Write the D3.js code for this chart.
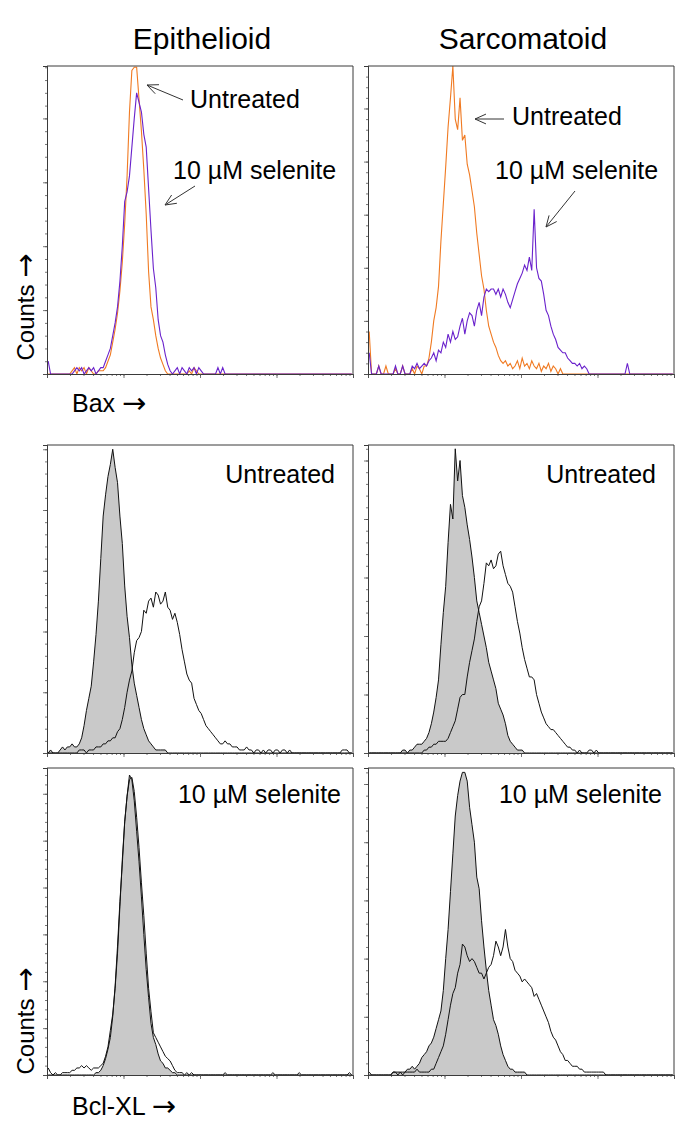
<!DOCTYPE html>
<html><head><meta charset="utf-8">
<script src="https://cdn.jsdelivr.net/npm/d3@7"></script>
<style>
body{margin:0;background:#fff}
svg{display:block}
text{font-family:"Liberation Sans", Arial, Helvetica, sans-serif; fill:#000}
</style>
</head><body>
<svg id="chart" width="685" height="1136"></svg>
<script>
// ---------------- data ----------------
const columnTitles = ["Epithelioid", "Sarcomatoid"];
const markerLabels = ["Bax", "Bcl-XL"];
const countsLabel = "Counts";
const arrowGlyph = "→";
const conditionLabels = ["Untreated", "10 µM selenite"];
const channelsPerDecade = 32;          // 128 channels over 4 decades
const totalChannels = 128;
const decadeTicks = [1, 10, 100, 1000, 10000];
const yMaxByPanel = [96.4, 116, 101.4, 105.3, 131, 105.5];

// Bax, Epithelioid
const epiBaxUntreatedStart = 10;
const epiBaxUntreated = [1,2,0,2,1,2,0,2,1,0,0,1,1,
  1,2,4,6,10,14,19,26,35,47,62,82,95,96,96,86,76,64,50,32,21,17,12,8,5,3,1,
  0,0,0,0,0,0,0,0,0,1,0,2,1,0];
const epiBaxSeleniteStart = 0;
const epiBaxSelenite = [4,0,0,0,0,0,0,0,0,0,
  0,1,2,1,2,0,1,2,1,2,0,1,2,
  2,4,6,8,12,16,21,29,40,54,57,62,71,80,88,85,82,75,71,58,45,33,27,17,12,10,6,3,1,0,
  1,2,0,2,1,0,2,1,2,0,2,1,
  0,0,0,0,0,0,2,0,2,0];

// Bax, Sarcomatoid
const sarBaxUntreatedStart = 0;
const sarBaxUntreated = [16,0,0,0,3,0,0,3,0,0,
  0,2,0,0,3,0,0,0,2,0,
  3,2,0,3,3,6,12,20,25,33,
  50,64,78,93,104,116,96,92,104,88,
  90,79,75,69,63,53,45,37,32,24,
  18,15,12,10,7,5,4,5,3,4,
  2,3,5,2,6,3,4,2,5,3,
  2,4,1,3,2,4,1,3,2,0,2];
const sarBaxSeleniteStart = 0;
const sarBaxSelenite = [8,0,0,0,3,0,0,0,0,0,
  0,3,0,0,3,0,0,0,3,2,
  4,2,3,4,3,5,6,8,5,9,
  8,12,10,15,12,16,13,14,18,21,
  15,20,23,22,18,24,27,22,29,32,
  31,32,32,30,32,29,32,30,27,25,
  28,31,34,36,38,41,39,44,39,62,
  40,36,35,30,24,22,18,15,13,10,
  9,8,8,6,5,4,4,3,4,2,
  3,2,0,0,0,0,0,0,0,0,
  0,0,0,0,0,0,0,0,4];

// Bcl-XL, Epithelioid, untreated (grey = control, line = Bcl-XL)
const epiBclUntreatedControlStart = 1;
const epiBclUntreatedControl = [1,0,0,0,1,2,1,2,2,3,2,
  2,3,5,9,14,18,22,30,39,50,
  64,78,85,91,95,100,94,89,78,69,
  55,45,38,29,23,19,15,11,8,6,
  4,3,2,1,1,1,1,1,0];
const epiBclUntreatedStainStart = 13;
const epiBclUntreatedStain = [1,1,1,0,1,1,1,2,2,2,
  3,3,4,4,5,5,7,8,11,15,
  20,24,27,33,37,38,40,47,46,50,
  51,48,53,52,49,50,53,48,47,44,
  46,43,39,34,30,26,24,23,18,16,
  14,13,11,9,8,7,6,5,4,3,
  3,4,3,3,2,2,2,1,1,1,
  2,1,1,0,1,1,0,1,0,1,
  1,0,1,1,0,1,1,0,1,0,
  0,0,0,0,0,0,0,0,0,0,
  0,0,0,0,0,0,0,0,0,0,
  1,1,1];

// Bcl-XL, Sarcomatoid, untreated
const sarBclUntreatedControlStart = 14;
const sarBclUntreatedControl = [1,1,0,1,1,2,3,3,3,4,
  5,7,10,14,19,25,37,48,57,72,
  85,80,104,93,100,88,84,78,73,67,
  60,52,48,44,40,36,31,28,25,22,
  17,15,13,10,6,4,3,2,1,1,
  1,0];
const sarBclUntreatedStainStart = 23;
const sarBclUntreatedStain = [1,1,2,2,3,3,4,4,4,4,
  5,7,9,11,15,19,20,20,26,31,
  35,39,45,50,52,58,65,64,66,63,
  64,68,69,64,61,58,57,55,50,45,
  41,36,32,29,26,26,25,20,17,14,
  12,10,9,8,8,7,6,5,4,3,
  2,2,1,1,0,1,0,0,0,1,
  1,0,1];

// Bcl-XL, Epithelioid, selenite
const epiBclSeleniteControlStart = 20;
const epiBclSeleniteControl = [1,1,2,4,7,11,16,25,38,55,
  74,90,108,119,128,126,117,104,91,76,
  60,45,33,22,16,13,9,6,5,3,
  3,2,1,1,0];
const epiBclSeleniteStainStart = 0;
const epiBclSeleniteStain = [3,1,0,1,0,0,1,1,1,1,
  2,2,3,3,4,3,4,3,2,3,
  3,3,4,5,8,12,19,26,37,52,
  72,92,108,119,126,127,121,110,97,82,
  68,52,37,27,18,16,14,12,10,8,
  7,6,4,2,1,1,1,0,1,0,
  1,0,0,0,0,0,0,0,0,0,
  0,0,0,0,1,0,0,0,0,0,
  0,0,0,0,0,0,0,0,0,0,
  0,0,0,0,1,0,0,0,0,0,
  0,0,0,0,0,1,0,0,0,0,
  0,0,0,0,0,0,0,0,0,0,
  0,0,0,0,0,0,1];

// Bcl-XL, Sarcomatoid, selenite
const sarBclSeleniteControlStart = 10;
const sarBclSeleniteControl = [1,1,1,1,1,1,2,2,3,2,
  3,4,6,7,8,10,11,13,16,19,
  22,29,40,50,63,76,89,96,101,104,
  104,101,92,86,80,68,64,53,44,36,
  29,24,19,17,14,10,7,5,3,2,
  2,1,1,1,1,1,0];
const sarBclSeleniteStainStart = 0;
const sarBclSeleniteStain = [1,0,0,0,0,0,0,0,0,0,
  1,1,0,1,0,1,1,1,1,1,
  2,1,1,1,1,1,2,2,4,6,
  8,10,14,19,24,28,30,35,38,45,
  44,41,39,40,39,37,35,35,33,35,
  37,38,41,46,44,41,44,50,44,40,
  39,36,35,34,32,33,32,31,30,27,
  28,26,24,22,20,18,15,13,12,10,
  8,7,5,5,4,3,3,3,2,2,
  1,1,1,1,1,1,1,1,1,0];

// ---------------- layout ----------------
const colX = [[47, 353], [368, 674]];
const rowY = [[66, 374], [445, 753], [768, 1075]];
const ORANGE = "#f07a22", PURPLE = "#6a22cc", GREY = "#c9c9c9", FRAME = "#3a3a3a";

function expand(start, counts) {
  const full = new Array(totalChannels).fill(0);
  counts.forEach((v, i) => { if (start + i < totalChannels) full[start + i] = v; });
  return full;
}

const panels = [
  {col:0,row:0,ymax:yMaxByPanel[0],type:"color",
   series:[{d:expand(epiBaxUntreatedStart,epiBaxUntreated),color:ORANGE},
           {d:expand(epiBaxSeleniteStart,epiBaxSelenite),color:PURPLE}]},
  {col:1,row:0,ymax:yMaxByPanel[1],type:"color",
   series:[{d:expand(sarBaxUntreatedStart,sarBaxUntreated),color:ORANGE},
           {d:expand(sarBaxSeleniteStart,sarBaxSelenite),color:PURPLE}]},
  {col:0,row:1,ymax:yMaxByPanel[2],type:"grey",label:conditionLabels[0],
   control:expand(epiBclUntreatedControlStart,epiBclUntreatedControl),
   stain:expand(epiBclUntreatedStainStart,epiBclUntreatedStain)},
  {col:1,row:1,ymax:yMaxByPanel[3],type:"grey",label:conditionLabels[0],
   control:expand(sarBclUntreatedControlStart,sarBclUntreatedControl),
   stain:expand(sarBclUntreatedStainStart,sarBclUntreatedStain)},
  {col:0,row:2,ymax:yMaxByPanel[4],type:"grey",label:conditionLabels[1],
   control:expand(epiBclSeleniteControlStart,epiBclSeleniteControl),
   stain:expand(epiBclSeleniteStainStart,epiBclSeleniteStain)},
  {col:1,row:2,ymax:yMaxByPanel[5],type:"grey",label:conditionLabels[1],
   control:expand(sarBclSeleniteControlStart,sarBclSeleniteControl),
   stain:expand(sarBclSeleniteStainStart,sarBclSeleniteStain)}
];

const svg = d3.select("#chart");

// channel centres on the log intensity axis
function toPoints(full) {
  return full.map((v, c) => ({at: Math.pow(10, (c + 0.5) / channelsPerDecade), v}));
}

panels.forEach((p, i) => {
  const [x0, x1] = colX[p.col];
  const [y0, y1] = rowY[p.row];
  const x = d3.scaleLog().domain([1, 1e4]).range([x0, x1]);
  const y = d3.scaleLinear().domain([0, p.ymax]).range([y1, y0]);
  const g = svg.append("g");
  const clipId = "clip" + i;
  svg.append("clipPath").attr("id", clipId).append("rect")
    .attr("x", x0).attr("y", y0 - 1).attr("width", x1 - x0).attr("height", y1 - y0 + 1);
  const plot = g.append("g").attr("clip-path", `url(#${clipId})`);
  const line = d3.line().x(d => x(d.at)).y(d => y(Math.min(d.v, p.ymax))).curve(d3.curveLinear);
  const area = d3.area().x(d => x(d.at)).y0(y(0)).y1(d => y(Math.min(d.v, p.ymax))).curve(d3.curveLinear);

  if (p.type === "color") {
    p.series.forEach(s => {
      plot.append("path").attr("d", line(toPoints(s.d)))
        .attr("fill", "none").attr("stroke", s.color).attr("stroke-width", 1.1);
    });
  } else {
    const cp = toPoints(p.control);
    plot.append("path").attr("d", area(cp)).attr("fill", GREY).attr("stroke", "none");
    plot.append("path").attr("d", line(cp)).attr("fill", "none").attr("stroke", "#111").attr("stroke-width", 1);
    plot.append("path").attr("d", line(toPoints(p.stain))).attr("fill", "none").attr("stroke", "#111").attr("stroke-width", 1);
  }

  // frame top / right
  g.append("path").attr("d", `M${x0},${y0}H${x1}V${y1}`).attr("fill", "none")
    .attr("stroke", FRAME).attr("stroke-width", 1);

  // x axis: minor + major log ticks
  const xMinor = g.append("g").attr("transform", `translate(0,${y1})`)
    .call(d3.axisBottom(x).tickValues(x.ticks()).tickSize(2).tickFormat(""));
  const xMajor = g.append("g").attr("transform", `translate(0,${y1})`)
    .call(d3.axisBottom(x).tickValues(decadeTicks).tickSize(4).tickFormat(""));
  // y axis: minor + major linear ticks
  const yMinor = g.append("g").attr("transform", `translate(${x0},0)`)
    .call(d3.axisLeft(y).tickValues(d3.range(0, p.ymax, 4)).tickSize(2).tickFormat(""));
  const yMajor = g.append("g").attr("transform", `translate(${x0},0)`)
    .call(d3.axisLeft(y).tickValues(d3.range(0, p.ymax, 20)).tickSize(4).tickFormat(""));
  [xMinor, xMajor, yMinor, yMajor].forEach(a => {
    a.selectAll("path.domain").attr("stroke", FRAME).attr("stroke-width", 1);
    a.selectAll(".tick line").attr("stroke", "#555").attr("stroke-width", 0.8);
  });

  if (p.label) {
    g.append("text").attr("x", x1 - (p.row === 2 ? 12 : 18)).attr("y", y0 + (p.row === 2 ? 35 : 38))
      .attr("text-anchor", "end").attr("font-size", 25).text(p.label);
  }
});

// column titles
columnTitles.forEach((t, i) => {
  svg.append("text").attr("x", (colX[i][0] + colX[i][1]) / 2 + 2).attr("y", 49)
    .attr("text-anchor", "middle").attr("font-size", 30).text(t);
});

// annotations in the Bax panels (offsets relative to panel corner)
function arrow(xs, ys, xt, yt) {
  const g = svg.append("g").attr("stroke", "#333").attr("stroke-width", 1).attr("fill", "none");
  g.append("line").attr("x1", xs).attr("y1", ys).attr("x2", xt).attr("y2", yt);
  const ang = Math.atan2(ys - yt, xs - xt), L = 12, a = 0.42;
  g.append("path").attr("d",
    `M${xt + L * Math.cos(ang - a)},${yt + L * Math.sin(ang - a)}L${xt},${yt}L${xt + L * Math.cos(ang + a)},${yt + L * Math.sin(ang + a)}`);
}
const bax = [
  {px: colX[0][0], py: rowY[0][0], t1:[143,42], a1:[136,34,100,19], t2:[126,113], a2:[148,120,118,139]},
  {px: colX[1][0], py: rowY[0][0], t1:[144,59], a1:[136,53,107,53], t2:[127,113], a2:[207,125,178,161]}
];
bax.forEach(b => {
  svg.append("text").attr("x", b.px + b.t1[0]).attr("y", b.py + b.t1[1]).attr("font-size", 25).text(conditionLabels[0]);
  arrow(b.px + b.a1[0], b.py + b.a1[1], b.px + b.a1[2], b.py + b.a1[3]);
  svg.append("text").attr("x", b.px + b.t2[0]).attr("y", b.py + b.t2[1]).attr("font-size", 25).text(conditionLabels[1]);
  arrow(b.px + b.a2[0], b.py + b.a2[1], b.px + b.a2[2], b.py + b.a2[3]);
});

// axis labels with a large arrow glyph
function labelWithArrow(sel, main) {
  sel.append("tspan").text(main + " ");
  sel.append("tspan").attr("font-family", "DejaVu Sans").attr("font-size", 29)
    .attr("dy", 1).text(arrowGlyph);
}
labelWithArrow(svg.append("text").attr("x", 72).attr("y", 412).attr("font-size", 25), markerLabels[0]);
labelWithArrow(svg.append("text").attr("x", 72).attr("y", 1115).attr("font-size", 25), markerLabels[1]);
[307, 1021].forEach(cy => {
  labelWithArrow(svg.append("text").attr("transform", `translate(34,${cy}) rotate(-90)`)
    .attr("text-anchor", "middle").attr("font-size", 24), countsLabel);
});
</script>
</body></html>
